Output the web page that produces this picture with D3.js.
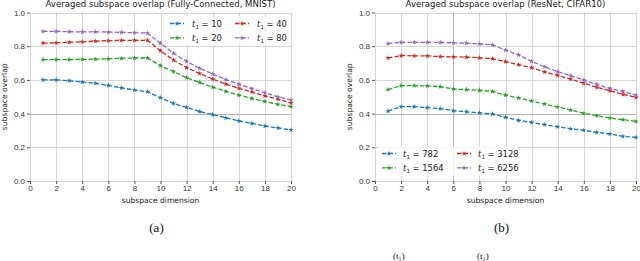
<!DOCTYPE html>
<html>
<head>
<meta charset="utf-8">
<script src="https://cdn.jsdelivr.net/npm/d3@7"></script>
<style>
  body { margin: 0; background: #fff; }
  svg { display: block; font-family: "DejaVu Sans", sans-serif; }
  .grid line { stroke: #d6d6d6; stroke-width: 1; }
  .axis text { fill: #333; font-size: 8px; }
  .axis line { stroke: #555; }
  .axis path { display: none; }
</style>
</head>
<body>
<svg id="fig" width="640" height="261"></svg>
<script>
// x values (subspace dimension)
var dims = d3.range(1, 21);
var xTicks = [0, 2, 4, 6, 8, 10, 12, 14, 16, 18, 20];
var yTicks = [0.0, 0.2, 0.4, 0.6, 0.8, 1.0];
var colors = ["#1f77b4", "#2ca02c", "#d62728", "#9467bd"];

// panel (a): Fully-Connected, MNIST
var fcLabels = ["10", "20", "40", "80"];
var fc10 = [0.600, 0.600, 0.595, 0.587, 0.580, 0.567, 0.553, 0.540, 0.530, 0.494, 0.460, 0.437, 0.412, 0.394, 0.375, 0.357, 0.342, 0.326, 0.315, 0.303];
var fc20 = [0.720, 0.720, 0.720, 0.722, 0.723, 0.725, 0.728, 0.730, 0.730, 0.684, 0.649, 0.613, 0.585, 0.557, 0.532, 0.510, 0.490, 0.472, 0.455, 0.441];
var fc40 = [0.818, 0.820, 0.823, 0.826, 0.830, 0.833, 0.835, 0.835, 0.835, 0.773, 0.718, 0.673, 0.638, 0.605, 0.575, 0.550, 0.528, 0.505, 0.485, 0.463];
var fc80 = [0.888, 0.888, 0.886, 0.885, 0.885, 0.884, 0.882, 0.880, 0.878, 0.817, 0.758, 0.710, 0.669, 0.635, 0.602, 0.575, 0.548, 0.524, 0.500, 0.482];

// panel (b): ResNet, CIFAR10
var rnLabels = ["782", "1564", "3128", "6256"];
var rn782 = [0.415, 0.441, 0.441, 0.435, 0.430, 0.417, 0.411, 0.404, 0.398, 0.378, 0.360, 0.348, 0.334, 0.322, 0.310, 0.301, 0.289, 0.279, 0.265, 0.259];
var rn1564 = [0.542, 0.566, 0.566, 0.564, 0.560, 0.546, 0.542, 0.538, 0.532, 0.510, 0.493, 0.475, 0.457, 0.439, 0.421, 0.402, 0.388, 0.374, 0.364, 0.354];
var rn3128 = [0.730, 0.744, 0.743, 0.742, 0.738, 0.737, 0.735, 0.731, 0.726, 0.708, 0.690, 0.673, 0.647, 0.627, 0.605, 0.580, 0.556, 0.536, 0.514, 0.496];
var rn6256 = [0.815, 0.823, 0.823, 0.823, 0.822, 0.820, 0.818, 0.813, 0.808, 0.777, 0.749, 0.710, 0.678, 0.649, 0.625, 0.598, 0.573, 0.549, 0.532, 0.510];

var svg = d3.select("#fig");

function panel(opt) {
  var x = d3.scaleLinear().domain([0, 20]).range([opt.left, opt.left + 261]);
  var y = d3.scaleLinear().domain([0, 1]).range([181, 12.5]);
  var g = svg.append("g");

  // grid
  var grid = g.append("g").attr("class", "grid");
  grid.selectAll(".gx").data(xTicks).enter().append("line")
    .attr("x1", function(d) { return Math.round(x(d)) + 0.5; })
    .attr("x2", function(d) { return Math.round(x(d)) + 0.5; })
    .attr("y1", y(0)).attr("y2", y(1))
    .style("stroke", function(d) { return d === opt.darkX ? "#b5b5b5" : null; });
  grid.selectAll(".gy").data(yTicks).enter().append("line")
    .attr("y1", function(d) { return Math.round(y(d)) + 0.5; })
    .attr("y2", function(d) { return Math.round(y(d)) + 0.5; })
    .attr("x1", x(0)).attr("x2", x(20))
    .style("stroke", function(d) { return d === 0.4 ? "#b5b5b5" : null; });

  // axes
  g.append("g").attr("class", "axis")
    .attr("transform", "translate(0," + y(0) + ")")
    .call(d3.axisBottom(x).tickValues(xTicks).tickSize(3).tickPadding(1).tickFormat(d3.format("d")));
  g.append("g").attr("class", "axis")
    .attr("transform", "translate(" + x(0) + ",0)")
    .call(d3.axisLeft(y).tickValues(yTicks).tickSize(3).tickPadding(2).tickFormat(d3.format(".1f")));

  // title and labels
  var cx = (x(0) + x(20)) / 2;
  g.append("text").attr("x", cx).attr("y", 7).attr("text-anchor", "middle")
    .style("font-size", "8.6px").style("fill", "#222").text(opt.title);
  g.append("text").attr("x", cx).attr("y", 203).attr("text-anchor", "middle")
    .style("font-size", "7.6px").style("fill", "#222").text("subspace dimension");
  g.append("text").attr("transform", "translate(" + (x(0) - 23) + "," + ((y(0) + y(1)) / 2) + ") rotate(-90)")
    .attr("text-anchor", "middle").style("font-size", "7.6px").style("fill", "#222").text("subspace overlap");
  g.append("text").attr("x", cx - 4).attr("y", 232).attr("text-anchor", "middle")
    .style("font-family", "'Liberation Serif', serif").style("font-size", "13px").style("fill", "#111").text(opt.tag);

  // series
  var line = d3.line().x(function(d, i) { return x(dims[i]); }).y(function(d) { return y(d); });
  var star = d3.symbol().type(d3.symbolStar).size(9);
  opt.series.forEach(function(s, k) {
    g.append("path").datum(s).attr("d", line)
      .attr("fill", "none").attr("stroke", colors[k]).attr("stroke-width", 1.3)
      .attr("stroke-dasharray", "4.5,2");
    g.selectAll(".m" + k).data(s).enter().append("path")
      .attr("transform", function(d, i) { return "translate(" + x(dims[i]) + "," + y(d) + ")"; })
      .attr("d", star).attr("fill", colors[k]);
  });

  // legend
  var lg = g.append("g").attr("transform", "translate(" + opt.legX + "," + opt.legY + ")");
  lg.append("rect").attr("x", -4).attr("y", -7).attr("width", opt.legW).attr("height", 29)
    .attr("fill", "#fff").attr("opacity", 0.8);
  opt.labels.forEach(function(lab, k) {
    var col = Math.floor(k / 2), row = k % 2;
    var e = lg.append("g").attr("transform", "translate(" + (col * opt.colW) + "," + (row * 14.4) + ")");
    e.append("line").attr("x1", 0).attr("x2", 14).attr("y1", 0).attr("y2", 0)
      .attr("stroke", colors[k]).attr("stroke-width", 1.3).attr("stroke-dasharray", "4.5,2");
    e.append("path").attr("transform", "translate(7,0)").attr("d", star).attr("fill", colors[k]);
    var t = e.append("text").attr("x", opt.txtDx).attr("y", 3).style("font-size", "8.4px").style("fill", "#222");
    t.append("tspan").style("font-style", "italic").style("font-family", "'DejaVu Serif', serif").text("t");
    t.append("tspan").attr("dy", 2).style("font-size", "5.6px").text("1");
    t.append("tspan").attr("dy", -2).text(" = " + lab);
  });
}

panel({
  left: 30, title: "Averaged subspace overlap (Fully-Connected, MNIST)", tag: "(a)",
  series: [fc10, fc20, fc40, fc80], labels: fcLabels, darkX: null,
  legX: 170, legY: 23.5, colW: 65, txtDx: 22, legW: 120
});
panel({
  left: 375, title: "Averaged subspace overlap (ResNet, CIFAR10)", tag: "(b)",
  series: [rn782, rn1564, rn3128, rn6256], labels: rnLabels, darkX: 6,
  legX: 382, legY: 153.5, colW: 75, txtDx: 21, legW: 140
});

// text from the next line of the page, at the bottom edge
svg.append("text").attr("x", 393).attr("y", 259)
  .style("font-family", "'Liberation Serif', serif").style("font-size", "9px").style("fill", "#111")
  .text("(t₁)");
svg.append("text").attr("x", 477).attr("y", 259)
  .style("font-family", "'Liberation Serif', serif").style("font-size", "9px").style("fill", "#111")
  .text("(t₁)");
</script>
</body>
</html>
